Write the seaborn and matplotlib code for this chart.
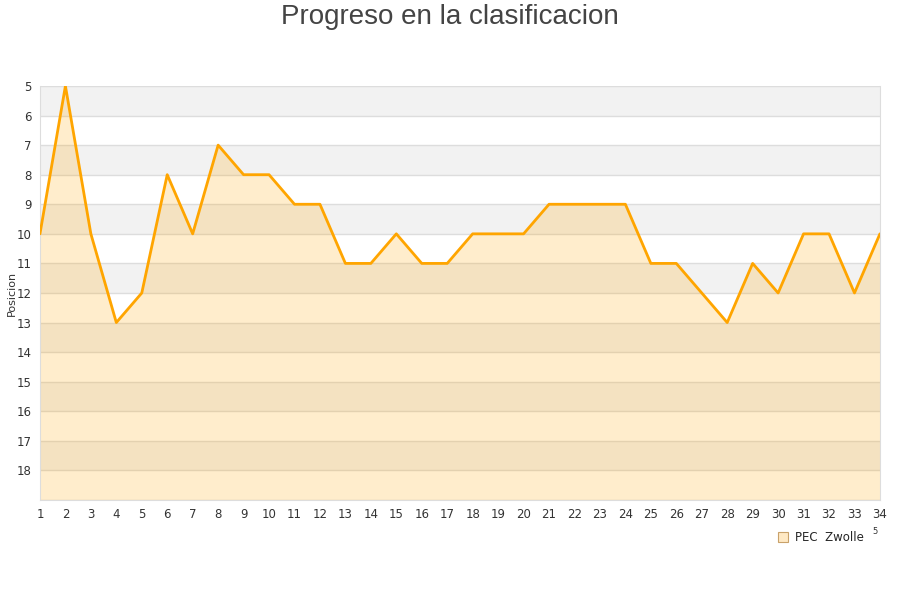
import matplotlib
matplotlib.use("Agg")
import matplotlib.pyplot as plt
import seaborn as sns
import pandas as pd
from matplotlib.patches import Patch

# data
jornadas = list(range(1, 35))
posiciones = [10, 5, 10, 13, 12, 8, 10, 7, 8, 8, 9, 9, 11, 11, 10, 11, 11, 10,
              10, 10, 9, 9, 9, 9, 11, 11, 12, 13, 11, 12, 10, 10, 12, 10]
equipo = "PEC  Zwolle"
y_ticks = list(range(5, 19))

df = pd.DataFrame({"jornada": jornadas, "posicion": posiciones})

sns.set_style("white")
plt.rcParams['font.family'] = ['DejaVu Sans']

fig = plt.figure(figsize=(9, 6), dpi=100)
ax = fig.add_axes([0.0444, 0.1667, 0.9333, 0.69])

# alternating bands
for i, y in enumerate(range(5, 19)):
    if i % 2 == 0:
        ax.axhspan(y, y + 1, color="#f2f2f2", zorder=0, lw=0)
for y in range(5, 20):
    ax.axhline(y, color="#dddddd", lw=1, zorder=1)

ax.fill_between(df["jornada"], df["posicion"], 19, color="#ffa500", alpha=0.2,
                lw=0, zorder=2)
sns.lineplot(data=df, x="jornada", y="posicion", color="#ffa500", lw=2,
             ax=ax, zorder=3)

ax.set_xlim(1, 34)
ax.set_ylim(19, 5)
ax.set_xticks(jornadas)
ax.set_yticks(y_ticks)
ax.tick_params(axis="both", labelsize=8.5, colors="#333333", length=0, pad=6)
ax.set_xlabel("")
ax.set_ylabel("Posicion", fontsize=8, color="#333333")
ax.yaxis.set_label_coords(-0.027, 0.5)
for side in ["top"]:
    ax.spines[side].set_visible(False)
for side in ["left", "bottom", "right"]:
    ax.spines[side].set_color("#dddddd")

fig.suptitle("Progreso en la clasificacion", y=0.993, fontsize=20,
             color="#444444", family=["Liberation Sans", "DejaVu Sans"])

handle = Patch(facecolor="#ffe9c4", edgecolor="#c9a26a", lw=0.8)
fig.legend([handle], [equipo], loc="center", bbox_to_anchor=(0.912, 0.104),
           frameon=False, fontsize=8.5, handlelength=0.8, handleheight=0.8,
           handletextpad=0.6)
fig.text(0.969, 0.11, "5", fontsize=6, color="#333333")

fig.savefig("out.png", dpi=100)
